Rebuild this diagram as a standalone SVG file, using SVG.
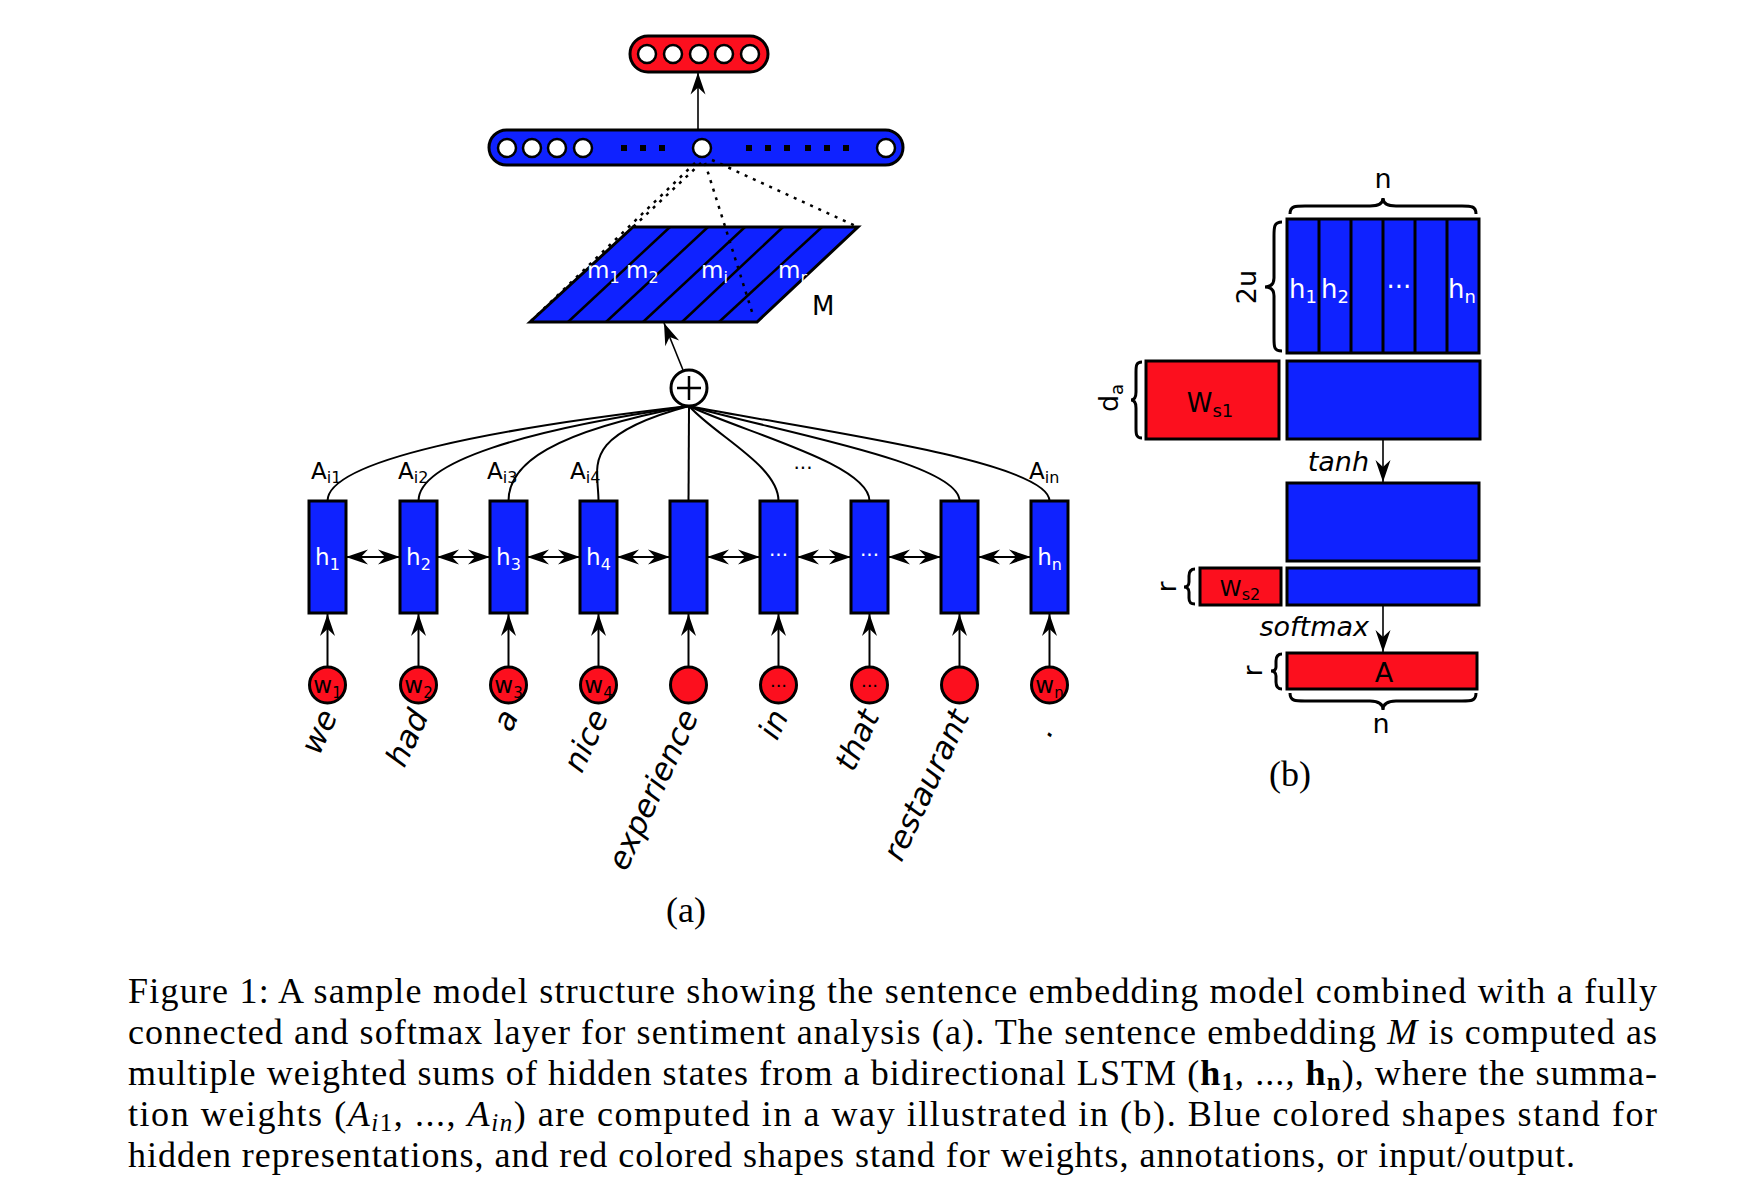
<svg xmlns="http://www.w3.org/2000/svg" width="1752" height="1190" viewBox="0 0 1752 1190">
<style>
.blue{fill:#0f22ff;stroke:#000;stroke-width:3}
.red{fill:#fc0f1e;stroke:#000;stroke-width:3}
.hole{fill:#fff;stroke:#000;stroke-width:2.5}
.ln{stroke:#000;stroke-width:2;fill:none}
.thin{stroke:#000;stroke-width:1.6;fill:none}
.dot{stroke:#000;stroke-width:2.5;fill:none;stroke-dasharray:3 6}
.brace{stroke:#000;stroke-width:3;fill:none}
.s{font-family:"DejaVu Sans",sans-serif}
.w{fill:#fff}
.k{fill:#000}
.it{font-style:italic}
.cap{font-family:"Liberation Serif","Times New Roman",serif;font-size:36px;fill:#000}
</style>
<defs>
<marker id="ah" viewBox="-23 -8 24 16" refX="0" refY="0" markerWidth="24" markerHeight="16" markerUnits="userSpaceOnUse" orient="auto-start-reverse">
<path d="M0,0 L-22,-7.5 L-15,0 L-22,7.5 Z" fill="#000"/>
</marker>
</defs>

<!-- output layer -->
<g id="output">
<rect x="630" y="36" width="138" height="36" rx="18" class="red"/>
<circle cx="647" cy="54" r="9" class="hole"/>
<circle cx="673" cy="54" r="9" class="hole"/>
<circle cx="699" cy="54" r="9" class="hole"/>
<circle cx="724" cy="54" r="9" class="hole"/>
<circle cx="750" cy="54" r="9" class="hole"/>
</g>

<!-- fully connected layer -->
<g id="fc">
<rect x="489" y="130" width="414" height="35" rx="17.5" class="blue"/>
<circle cx="507" cy="148" r="9" class="hole"/>
<circle cx="532" cy="148" r="9" class="hole"/>
<circle cx="557" cy="148" r="9" class="hole"/>
<circle cx="583" cy="148" r="9" class="hole"/>
<circle cx="702" cy="148" r="9" class="hole"/>
<circle cx="886" cy="148" r="9" class="hole"/>
<g fill="#000">
<rect x="621" y="145" width="6" height="6"/><rect x="640" y="145" width="6" height="6"/><rect x="659" y="145" width="6" height="6"/>
<rect x="746" y="145" width="6" height="6"/><rect x="765" y="145" width="6" height="6"/><rect x="784" y="145" width="6" height="6"/>
<rect x="805" y="145" width="6" height="6"/><rect x="824" y="145" width="6" height="6"/><rect x="843" y="145" width="6" height="6"/>
</g>
</g>

<!-- sentence embedding M -->
<g id="M">
<path d="M530,322 L633,227 L858,227 L757,322 Z" class="blue"/>
<g class="ln" style="stroke-width:2.5">
<line x1="568" y1="322" x2="670" y2="227"/>
<line x1="606" y1="322" x2="708" y2="227"/>
<line x1="643" y1="322" x2="745" y2="227"/>
<line x1="682" y1="322" x2="783" y2="227"/>
<line x1="719" y1="322" x2="822" y2="227"/>
</g>
<g class="s w" font-size="23">
<text x="587" y="278">m<tspan font-size="16" dy="5">1</tspan></text>
<text x="626" y="278">m<tspan font-size="16" dy="5">2</tspan></text>
<text x="701" y="278">m<tspan font-size="16" dy="5">i</tspan></text>
<text x="778" y="278">m<tspan font-size="16" dy="5">r</tspan></text>
</g>
<text x="812" y="315" class="s k" font-size="26">M</text>
</g>

<!-- sum node -->
<g id="sum">
<circle cx="689" cy="388" r="18" fill="#fff" stroke="#000" stroke-width="3"/>
<path d="M677,388 H701 M689,376 V400" stroke="#000" stroke-width="2.5"/>
</g>

<!-- hidden states -->
<g id="h1"><rect x="309" y="501" width="37" height="112" class="blue"/><text x="327.5" y="565" text-anchor="middle" class="s w" font-size="23">h<tspan font-size="16" dy="5">1</tspan></text></g>
<g id="h2"><rect x="400" y="501" width="37" height="112" class="blue"/><text x="418.5" y="565" text-anchor="middle" class="s w" font-size="23">h<tspan font-size="16" dy="5">2</tspan></text></g>
<g id="h3"><rect x="490" y="501" width="37" height="112" class="blue"/><text x="508.5" y="565" text-anchor="middle" class="s w" font-size="23">h<tspan font-size="16" dy="5">3</tspan></text></g>
<g id="h4"><rect x="580" y="501" width="37" height="112" class="blue"/><text x="598.5" y="565" text-anchor="middle" class="s w" font-size="23">h<tspan font-size="16" dy="5">4</tspan></text></g>
<g id="h5"><rect x="670" y="501" width="37" height="112" class="blue"/></g>
<g id="h6"><rect x="760" y="501" width="37" height="112" class="blue"/><text x="778.5" y="562" text-anchor="middle" class="s w" font-size="20">···</text></g>
<g id="h7"><rect x="851" y="501" width="37" height="112" class="blue"/><text x="869.5" y="562" text-anchor="middle" class="s w" font-size="20">···</text></g>
<g id="h8"><rect x="941" y="501" width="37" height="112" class="blue"/></g>
<g id="h9"><rect x="1031" y="501" width="37" height="112" class="blue"/><text x="1049.5" y="565" text-anchor="middle" class="s w" font-size="23">h<tspan font-size="16" dy="5">n</tspan></text></g>

<!-- attention labels -->
<g id="alabels" class="s k" font-size="23">
<text x="311" y="479">A<tspan font-size="16" dy="4">i1</tspan></text>
<text x="398" y="479">A<tspan font-size="16" dy="4">i2</tspan></text>
<text x="487" y="479">A<tspan font-size="16" dy="4">i3</tspan></text>
<text x="570" y="479">A<tspan font-size="16" dy="4">i4</tspan></text>
<text x="803" y="475" text-anchor="middle" font-size="20">···</text>
<text x="1029" y="479">A<tspan font-size="16" dy="4">in</tspan></text>
</g>

<!-- word inputs -->
<g id="w1"><circle cx="327.5" cy="685" r="18" class="red"/><text x="327.5" y="693" text-anchor="middle" class="s k" font-size="23">w<tspan font-size="15" dy="5">1</tspan></text></g>
<g id="w2"><circle cx="418.5" cy="685" r="18" class="red"/><text x="418.5" y="693" text-anchor="middle" class="s k" font-size="23">w<tspan font-size="15" dy="5">2</tspan></text></g>
<g id="w3"><circle cx="508.5" cy="685" r="18" class="red"/><text x="508.5" y="693" text-anchor="middle" class="s k" font-size="23">w<tspan font-size="15" dy="5">3</tspan></text></g>
<g id="w4"><circle cx="598.5" cy="685" r="18" class="red"/><text x="598.5" y="693" text-anchor="middle" class="s k" font-size="23">w<tspan font-size="15" dy="5">4</tspan></text></g>
<g id="w5"><circle cx="688.5" cy="685" r="18" class="red"/></g>
<g id="w6"><circle cx="778.5" cy="685" r="18" class="red"/><text x="778.5" y="692" text-anchor="middle" class="s k" font-size="18">···</text></g>
<g id="w7"><circle cx="869.5" cy="685" r="18" class="red"/><text x="869.5" y="692" text-anchor="middle" class="s k" font-size="18">···</text></g>
<g id="w8"><circle cx="959.5" cy="685" r="18" class="red"/></g>
<g id="w9"><circle cx="1049.5" cy="685" r="18" class="red"/><text x="1049.5" y="693" text-anchor="middle" class="s k" font-size="23">w<tspan font-size="15" dy="5">n</tspan></text></g>

<!-- words -->
<g id="words" class="s k it" font-size="31" text-anchor="end">
<text transform="translate(338,716) rotate(-65)">we</text>
<text transform="translate(429,716) rotate(-65)">had</text>
<text transform="translate(519,716) rotate(-65)">a</text>
<text transform="translate(609,716) rotate(-65)">nice</text>
<text transform="translate(699,716) rotate(-65)">experience</text>
<text transform="translate(789,716) rotate(-65)">in</text>
<text transform="translate(880,716) rotate(-65)">that</text>
<text transform="translate(970,716) rotate(-65)">restaurant</text>
<text transform="translate(1054,730) rotate(-65)">.</text>
</g>

<text x="686" y="922" text-anchor="middle" class="cap" font-size="30">(a)</text>

<!-- part (b) -->
<g id="Hmat">
<rect x="1287" y="219" width="192" height="134" class="blue"/>
<g class="ln" style="stroke-width:3">
<line x1="1319" y1="219" x2="1319" y2="353"/><line x1="1351" y1="219" x2="1351" y2="353"/>
<line x1="1383" y1="219" x2="1383" y2="353"/><line x1="1415" y1="219" x2="1415" y2="353"/>
<line x1="1447" y1="219" x2="1447" y2="353"/>
</g>
<g class="s w" font-size="26" text-anchor="middle">
<text x="1303" y="298">h<tspan font-size="18" dy="5">1</tspan></text>
<text x="1335" y="298">h<tspan font-size="18" dy="5">2</tspan></text>
<text x="1399" y="296">···</text>
<text x="1462" y="298">h<tspan font-size="18" dy="5">n</tspan></text>
</g>
</g>
<g id="Ws1"><rect x="1146" y="361" width="133" height="78" class="red"/><text x="1210" y="412" text-anchor="middle" class="s k" font-size="26">W<tspan font-size="18" dy="5">s1</tspan></text></g>
<g id="B1"><rect x="1287" y="361" width="193" height="78" class="blue"/></g>
<g id="B2"><rect x="1287" y="483" width="192" height="78" class="blue"/></g>
<g id="Ws2"><rect x="1200" y="568" width="81" height="37" class="red"/><text x="1240" y="596" text-anchor="middle" class="s k" font-size="22">W<tspan font-size="16" dy="4">s2</tspan></text></g>
<g id="B3"><rect x="1287" y="568" width="192" height="37" class="blue"/></g>
<g id="Amat"><rect x="1287" y="653" width="190" height="36" class="red"/><text x="1384" y="682" text-anchor="middle" class="s k" font-size="27">A</text></g>

<g id="braces" class="brace">
<path d="M1290,214 C1290,206 1295,206 1305,206 L1370,206 C1379,206 1383,203 1383,198 C1383,203 1387,206 1396,206 L1462,206 C1471,206 1476,206 1476,214"/>
<path d="M1282,222 C1274,222 1274,227 1274,236 L1274,278 C1274,284 1271,287 1265,287 C1271,287 1274,290 1274,296 L1274,338 C1274,347 1274,351 1282,351"/>
<path d="M1142,362 C1136,362 1136,366 1136,372 L1136,392 C1136,397 1134,400 1131,400 C1134,400 1136,403 1136,408 L1136,428 C1136,434 1136,438 1142,438"/>
<path d="M1195,569 C1190,569 1189,572 1189,576 L1189,582 C1189,585 1187,587 1184,587 C1187,587 1189,589 1189,592 L1189,598 C1189,602 1190,604 1195,604"/>
<path d="M1282,654 C1277,654 1276,657 1276,661 L1276,667 C1276,670 1274,671 1271,671 C1274,671 1276,673 1276,676 L1276,682 C1276,686 1277,689 1282,689"/>
<path d="M1290,693 C1290,701 1295,701 1305,701 L1370,701 C1379,701 1383,704 1383,710 C1383,704 1387,701 1396,701 L1462,701 C1471,701 1476,701 1476,693"/>
</g>
<g id="blabels" class="s k" font-size="27">
<text x="1383" y="188" text-anchor="middle">n</text>
<text transform="translate(1256,287) rotate(-90)" text-anchor="middle">2u</text>
<text transform="translate(1118,398) rotate(-90)" text-anchor="middle">d<tspan font-size="18" dy="5">a</tspan></text>
<text transform="translate(1176,587) rotate(-90)" text-anchor="middle">r</text>
<text transform="translate(1262,671) rotate(-90)" text-anchor="middle">r</text>
<text x="1369" y="471" text-anchor="end" class="it">tanh</text>
<text x="1369" y="636" text-anchor="end" class="it">softmax</text>
<text x="1381" y="733" text-anchor="middle">n</text>
</g>
<text x="1290" y="786" text-anchor="middle" class="cap" font-size="30">(b)</text>

<!-- connectors -->
<g id="connectors">
<line x1="698" y1="130" x2="698" y2="72.5" class="thin" marker-end="url(#ah)"/>
<line x1="695" y1="163" x2="530" y2="322" class="dot"/>
<line x1="701" y1="163" x2="633" y2="227" class="dot"/>
<line x1="705" y1="163" x2="753" y2="315" class="dot"/>
<line x1="712" y1="160" x2="858" y2="227" class="dot"/>
<line x1="683" y1="370" x2="664" y2="323" class="thin" marker-end="url(#ah)"/>
<g class="thin" style="stroke-width:2">
<path d="M327.5,501 C327.5,460 497,428 689,406"/>
<path d="M418.5,501 C418.5,462 524,430 689,406"/>
<path d="M508.5,501 C508.5,464 551,432 689,406"/>
<path d="M598.5,501 C598.5,466 578,436 689,406"/>
<path d="M688.5,501 L689,406"/>
<path d="M778.5,501 C778.5,466 716,436 689,406"/>
<path d="M869.5,501 C869.5,464 743,432 689,406"/>
<path d="M959.5,501 C959.5,462 770,430 689,406"/>
<path d="M1049.5,501 C1049.5,460 797,428 689,406"/>
</g>
<g class="thin" style="stroke-width:2">
<line x1="346" y1="557" x2="400" y2="557" marker-start="url(#ah)" marker-end="url(#ah)"/>
<line x1="437" y1="557" x2="490" y2="557" marker-start="url(#ah)" marker-end="url(#ah)"/>
<line x1="527" y1="557" x2="580" y2="557" marker-start="url(#ah)" marker-end="url(#ah)"/>
<line x1="617" y1="557" x2="670" y2="557" marker-start="url(#ah)" marker-end="url(#ah)"/>
<line x1="707" y1="557" x2="760" y2="557" marker-start="url(#ah)" marker-end="url(#ah)"/>
<line x1="797" y1="557" x2="851" y2="557" marker-start="url(#ah)" marker-end="url(#ah)"/>
<line x1="888" y1="557" x2="941" y2="557" marker-start="url(#ah)" marker-end="url(#ah)"/>
<line x1="978" y1="557" x2="1031" y2="557" marker-start="url(#ah)" marker-end="url(#ah)"/>
</g>
<g class="thin" style="stroke-width:2">
<line x1="327.5" y1="667" x2="327.5" y2="614" marker-end="url(#ah)"/>
<line x1="418.5" y1="667" x2="418.5" y2="614" marker-end="url(#ah)"/>
<line x1="508.5" y1="667" x2="508.5" y2="614" marker-end="url(#ah)"/>
<line x1="598.5" y1="667" x2="598.5" y2="614" marker-end="url(#ah)"/>
<line x1="688.5" y1="667" x2="688.5" y2="614" marker-end="url(#ah)"/>
<line x1="778.5" y1="667" x2="778.5" y2="614" marker-end="url(#ah)"/>
<line x1="869.5" y1="667" x2="869.5" y2="614" marker-end="url(#ah)"/>
<line x1="959.5" y1="667" x2="959.5" y2="614" marker-end="url(#ah)"/>
<line x1="1049.5" y1="667" x2="1049.5" y2="614" marker-end="url(#ah)"/>
</g>
<line x1="1383" y1="440" x2="1383" y2="482" class="thin" marker-end="url(#ah)"/>
<line x1="1383" y1="606" x2="1383" y2="652" class="thin" marker-end="url(#ah)"/>
</g>

<!-- caption -->
<g id="caption" class="cap">
<text x="128" y="1003" textLength="1529" lengthAdjust="spacing">Figure 1: A sample model structure showing the sentence embedding model combined with a fully</text>
<text x="128" y="1044" textLength="1529" lengthAdjust="spacing">connected and softmax layer for sentiment analysis (a). The sentence embedding <tspan font-style="italic">M</tspan> is computed as</text>
<text x="128" y="1085" textLength="1529" lengthAdjust="spacing">multiple weighted sums of hidden states from a bidirectional LSTM (<tspan font-weight="bold">h</tspan><tspan font-weight="bold" font-size="25" dy="5">1</tspan><tspan dy="-5">, ..., </tspan><tspan font-weight="bold">h</tspan><tspan font-weight="bold" font-size="25" dy="5">n</tspan><tspan dy="-5">), where the summa-</tspan></text>
<text x="128" y="1126" textLength="1529" lengthAdjust="spacing">tion weights (<tspan font-style="italic">A</tspan><tspan font-style="italic" font-size="25" dy="5">i</tspan><tspan font-size="25">1</tspan><tspan dy="-5">, ..., </tspan><tspan font-style="italic">A</tspan><tspan font-style="italic" font-size="25" dy="5">in</tspan><tspan dy="-5">) are computed in a way illustrated in (b).  Blue colored shapes stand for</tspan></text>
<text x="128" y="1167" textLength="1447" lengthAdjust="spacing">hidden representations, and red colored shapes stand for weights, annotations, or input/output.</text>
</g>
</svg>
